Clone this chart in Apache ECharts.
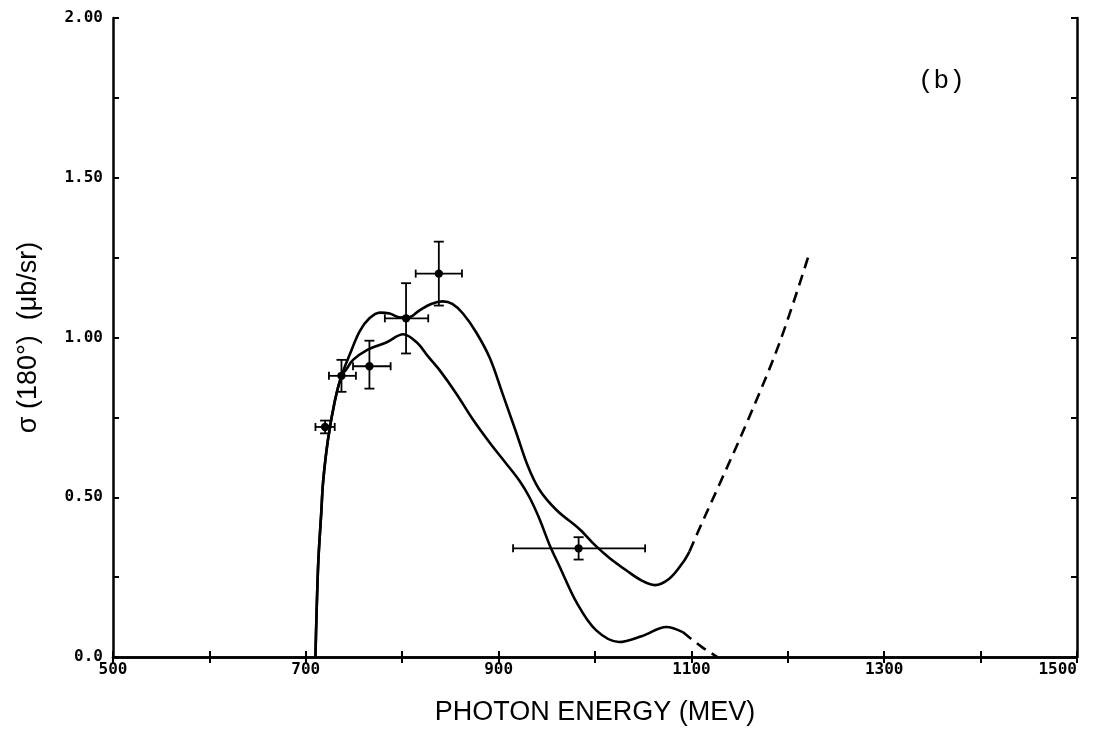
<!DOCTYPE html>
<html>
<head>
<meta charset="utf-8">
<script src="https://cdn.jsdelivr.net/npm/echarts@6/dist/echarts.min.js"></script>
<style>
  html, body { margin: 0; padding: 0; background: #fff; }
  #chart { width: 1094px; height: 730px; }
</style>
</head>
<body>
<div id="chart"></div>
<script>
// upper theory curve (solid part), [MeV, ub/sr]
const upperSolid = [
  [710, 0], [711, 0.12], [713, 0.3], [716, 0.45], [718, 0.55], [723, 0.68],
  [730, 0.80], [737, 0.88], [746, 0.95], [756, 1.02], [766, 1.06], [777, 1.078],
  [787, 1.075], [797, 1.063], [806, 1.062], [818, 1.085], [830, 1.105], [842, 1.113],
  [852, 1.105], [863, 1.075], [877, 1.015], [891, 0.935], [904, 0.825], [918, 0.705],
  [930, 0.60], [942, 0.525], [960, 0.46], [984, 0.40], [1000, 0.35], [1015, 0.31],
  [1033, 0.27], [1048, 0.24], [1062, 0.225], [1077, 0.245], [1091, 0.295], [1098, 0.33]
];
// upper curve, dashed continuation
const upperDashed = [
  [1098, 0.33], [1111, 0.42], [1129, 0.54], [1157, 0.73], [1191, 0.98], [1222, 1.26]
];
// lower theory curve (solid part)
const lowerSolid = [
  [710, 0], [711, 0.12], [713, 0.3], [716, 0.45], [718, 0.55], [723, 0.68],
  [730, 0.80], [737, 0.88], [742, 0.90], [749, 0.93], [763, 0.96], [784, 0.985],
  [801, 1.01], [815, 0.985], [827, 0.94], [839, 0.897], [856, 0.825], [873, 0.745],
  [891, 0.67], [908, 0.605], [922, 0.55], [932, 0.50], [942, 0.435], [953, 0.35],
  [963, 0.285], [981, 0.17], [1001, 0.084], [1025, 0.047], [1049, 0.066],
  [1074, 0.094], [1091, 0.078]
];
// lower curve, dashed continuation
const lowerDashed = [
  [1091, 0.078], [1111, 0.031], [1127, 0]
];
// measured points: [E, sigma, E low, E high, sigma low, sigma high]
const measured = [
  [720, 0.72, 710, 730, 0.70, 0.74],
  [737, 0.88, 724, 752, 0.83, 0.93],
  [766, 0.91, 749, 788, 0.84, 0.99],
  [804, 1.06, 782, 827, 0.95, 1.17],
  [838, 1.20, 814, 862, 1.10, 1.30],
  [983, 0.34, 915, 1052, 0.305, 0.375]
];
const xTickLabels = [500, 700, 900, 1100, 1300, 1500];
const yTickLabels = ['0.0', '0.50', '1.00', '1.50', '2.00'];

const chart = echarts.init(document.getElementById('chart'));

const tickFont = { fontFamily: 'DejaVu Sans Mono', fontWeight: 'bold', fontSize: 16, color: '#000' };
const axisLine = { show: true, lineStyle: { color: '#000', width: 2.5 } };
const axisTick = { show: true, inside: true, length: 6, lineStyle: { color: '#000', width: 2 } };

function errorBar(params, api) {
  const x = api.value(0), y = api.value(1);
  const c = api.coord([x, y]);
  const l = api.coord([api.value(2), y]);
  const r = api.coord([api.value(3), y]);
  const b = api.coord([x, api.value(4)]);
  const t = api.coord([x, api.value(5)]);
  const st = { stroke: '#000', lineWidth: 1.8 };
  const seg = (x1, y1, x2, y2) => ({ type: 'line', shape: { x1, y1, x2, y2 }, style: st });
  return {
    type: 'group',
    children: [
      seg(l[0], l[1], r[0], r[1]),
      seg(l[0], l[1] - 4, l[0], l[1] + 4),
      seg(r[0], r[1] - 4, r[0], r[1] + 4),
      seg(b[0], b[1], t[0], t[1]),
      seg(b[0] - 5, b[1], b[0] + 5, b[1]),
      seg(t[0] - 5, t[1], t[0] + 5, t[1]),
      { type: 'circle', shape: { cx: c[0], cy: c[1], r: 4.2 }, style: { fill: '#000' } }
    ]
  };
}

const curveStyle = { color: '#000', width: 2.6 };

chart.setOption({
  backgroundColor: '#fff',
  animation: false,
  grid: { left: 113, right: 17, top: 18, bottom: 73, outerBoundsMode: 'none', containLabel: false },
  xAxis: [
    {
      type: 'value', min: 500, max: 1500, interval: 100,
      name: 'PHOTON ENERGY (MEV)', nameLocation: 'middle', nameGap: 42,
      nameTextStyle: { fontFamily: 'Liberation Sans', fontSize: 27, color: '#000' },
      axisLine, axisTick, splitLine: { show: false },
      axisLabel: Object.assign({
        margin: 5,
        alignMaxLabel: 'right',
        formatter: v => (xTickLabels.indexOf(v) >= 0 ? String(v) : '')
      }, tickFont)
    },
    {
      type: 'value', min: 500, max: 1500, interval: 100, position: 'top',
      axisLine, axisTick, axisLabel: { show: false }, splitLine: { show: false }
    }
  ],
  yAxis: [
    {
      type: 'value', min: 0, max: 2, interval: 0.25,
      name: 'σ (180°)  (μb/sr)', nameLocation: 'middle', nameGap: 71, nameRotate: 90,
      nameTextStyle: { fontFamily: 'Liberation Sans', fontSize: 27, color: '#000' },
      axisLine, axisTick, splitLine: { show: false },
      axisLabel: Object.assign({
        margin: 10,
        formatter: v => {
          const k = Math.round(v / 0.5);
          return Math.abs(v - k * 0.5) < 1e-6 ? yTickLabels[k] : '';
        }
      }, tickFont)
    },
    {
      type: 'value', min: 0, max: 2, interval: 0.25, position: 'right',
      axisLine, axisTick, axisLabel: { show: false }, splitLine: { show: false }
    }
  ],
  graphic: [
    {
      type: 'text', left: 918, top: 68,
      style: { text: '(b)', font: '26px "Liberation Mono"', fill: '#000' }
    }
  ],
  series: [
    { type: 'line', data: upperSolid, smooth: 0.35, showSymbol: false, lineStyle: curveStyle },
    { type: 'line', data: upperDashed, smooth: 0.35, showSymbol: false,
      lineStyle: Object.assign({ type: [11, 7] }, curveStyle) },
    { type: 'line', data: lowerSolid, smooth: 0.35, showSymbol: false, lineStyle: curveStyle },
    { type: 'line', data: lowerDashed, smooth: 0.35, showSymbol: false,
      lineStyle: Object.assign({ type: [11, 7] }, curveStyle) },
    { type: 'custom', data: measured, renderItem: errorBar, encode: { x: 0, y: 1 }, z: 5 }
  ]
});
</script>
</body>
</html>
